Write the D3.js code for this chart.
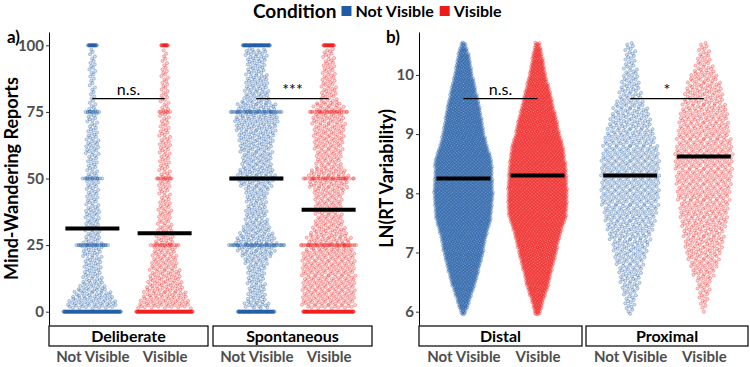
<!DOCTYPE html>
<html>
<head>
<meta charset="utf-8">
<script src="https://cdn.jsdelivr.net/npm/d3@7"></script>
<style>
  body { margin: 0; background: #fff; }
  text { font-family: Lato, "Open Sans", sans-serif; }
</style>
</head>
<body>
<svg id="chart" width="750" height="367"></svg>
<script>
// ---- data ----
const conditions = ["Not Visible", "Visible"];
const mwFacets = ["Deliberate", "Spontaneous"];
const rtFacets = ["Distal", "Proximal"];
const mwTicks = [0, 25, 50, 75, 100];
const rtTicks = [6, 7, 8, 9, 10];

// mind-wandering: counts per 2.5-wide bin (centres 2.5 .. 97.5)
const mwBins = d3.range(2.5, 100, 2.5);
const mwDeliberateNV = [29,25,20,14,11,10,10,10,11,12, 9,8,8,8,9,7,7,7,7,8, 6,6,6,8,8,7,6,5,6,6, 4,3,3,3,3,4,4,3,3];
const mwDeliberateV  = [29,26,23,20,18,17,15,14,13,12, 10,9,8,7,8,7,6,6,7,7, 6,6,6,6,7,6,6,5,5,6, 4,5,4,4,4,4,3,3,2];
const mwSpontaneousNV = [15,11,10,10,10,10,12,15,21,23, 23,18,15,12,13,11,12,13,18,22, 21,17,17,18,19,20,22,24,26,21, 23,15,14,13,13,11,10,12,13];
const mwSpontaneousV  = [29,29,29,29,29,29,29,29,29,22, 25,20,17,15,14,15,15,17,22,22, 21,14,14,15,16,17,17,18,18,16, 17,9,9,8,8,7,7,6,6];
// reports exactly on the round values
const mwSpikeValues = [0, 25, 50, 75, 100];
const mwSpikeDeliberateNV = [128, 25, 12, 9, 20];
const mwSpikeDeliberateV  = [126, 14, 9, 5, 15];
const mwSpikeSpontaneousNV = [84, 38, 31, 36, 62];
const mwSpikeSpontaneousV  = [112, 37, 26, 20, 24];

// LN(RT variability): counts per 0.1-wide bin (centres 6.0 .. 10.5)
const rtBins = d3.range(60, 106).map(d => d / 10);
const rtDistalNV = [10,20,26,34,42,50,56,62,68,74, 80,84,88,94,100,108,112,114,116,118, 120,118,118,116,116,116,112,104,96,90, 84,80,76,72,68,64,58,52,48,42, 36,32,28,24,18,10];
const rtDistalV  = [12,18,24,32,40,46,50,56,62,68, 74,78,84,90,96,104,112,114,116,116, 116,116,114,114,112,110,106,104,100,94, 86,82,78,72,66,60,56,50,44,38, 32,28,24,20,16,10];
const rtProximalNV = [3,5,5,6,8,9,10,11,12,14, 15,16,18,19,21,22,23,24,25,26, 26,26,26,26,26,26,26,25,24,23, 22,20,19,18,16,14,11,10,9,8, 7,6,5,5,5,4];
const rtProximalV  = [1,3,4,5,6,6,9,11,13,14, 16,17,18,18,19,21,21,22,22,23, 24,24,25,25,25,26,26,26,25,24, 23,23,22,22,21,19,18,17,16,14, 12,9,7,6,5,4];

// group means and significance
const mwMeanNV = [31.2, 50.0];
const mwMeanV  = [29.4, 38.3];
const rtMeanNV = [8.25, 8.30];
const rtMeanV  = [8.30, 8.62];
const mwSig = ["n.s.", "***"];
const rtSig = ["n.s.", "*"];
const mwSigAt = 80;
const rtSigAt = 9.6;

// ---- drawing ----
const svg = d3.select("#chart");
const color = d3.scaleOrdinal().domain(conditions).range(["#1f5ba3", "#ee1a1a"]);
const panelTop = 32, panelBottom = 325, stripH = 20;
const fontFamily = "Lato, 'Open Sans', sans-serif";

// van der Corput sequence, base 2 (quasirandom offsets)
function vdc(k) {
  let v = 0, denom = 1;
  while (k > 0) { denom *= 2; v += (k % 2) / denom; k = Math.floor(k / 2); }
  return v;
}

function makeSwarm(bins, counts, spikeVals, spikeCounts) {
  const step = bins[1] - bins[0];
  const densAt = v => {
    let t = (v - bins[0]) / step;
    t = Math.max(0, Math.min(bins.length - 1, t));
    const i = Math.min(Math.floor(t), bins.length - 2);
    const f = t - i;
    return counts[i] * (1 - f) + counts[i + 1] * f;
  };
  const pts = [];
  bins.forEach((b, j) => {
    const n = counts[j];
    for (let i = 0; i < n; i++) {
      const v = b - step / 2 + (i + 0.5) * step / n;
      pts.push({ v, d: densAt(v) });
    }
  });
  spikeVals.forEach((s, j) => {
    const k = bins.findIndex(b => Math.abs(b - s) < 1e-9);
    const d = spikeCounts[j] / 4 + (k >= 0 ? counts[k] : 0);
    for (let i = 0; i < spikeCounts[j]; i++) pts.push({ v: s, d });
  });
  const maxD = d3.max(pts, p => p.d);
  pts.sort((a, b) => a.v - b.v);
  pts.forEach((p, i) => { p.q = (vdc(i + 1) * 2 - 1) * p.d / maxD; });
  return pts;
}

function drawFacet(x0, x1, y, name, swarms, means, sig, sigAt, ticks) {
  const g = svg.append("g");
  const x = d3.scalePoint().domain(conditions).range([x0, x1]).padding(0.6);
  const half = 0.4 * x.step();

  conditions.forEach((c, i) => {
    g.append("g")
      .selectAll("circle")
      .data(swarms[i])
      .join("circle")
      .attr("cx", p => x(c) + p.q * half)
      .attr("cy", p => y(p.v))
      .attr("r", 1.6)
      .attr("fill", color(c))
      .attr("fill-opacity", 0.2)
      .attr("stroke", color(c))
      .attr("stroke-opacity", 0.5)
      .attr("stroke-width", 0.6);
  });

  // means
  conditions.forEach((c, i) => {
    g.append("line")
      .attr("x1", x(c) - 27).attr("x2", x(c) + 27)
      .attr("y1", y(means[i])).attr("y2", y(means[i]))
      .attr("stroke", "#000").attr("stroke-width", 4);
  });

  // significance bar
  g.append("line")
    .attr("x1", x(conditions[0])).attr("x2", x(conditions[1]))
    .attr("y1", y(sigAt)).attr("y2", y(sigAt))
    .attr("stroke", "#000").attr("stroke-width", 1.2);
  g.append("text")
    .attr("x", (x(conditions[0]) + x(conditions[1])) / 2)
    .attr("y", y(sigAt) - 4)
    .attr("text-anchor", "middle")
    .style("font-size", "16px")
    .text(sig);

  if (ticks) {
    const ax = g.append("g")
      .attr("transform", `translate(${x0},0)`)
      .call(d3.axisLeft(y).tickValues(ticks).tickFormat(d3.format("d"))
        .tickSize(3).tickSizeOuter(0).tickPadding(2));
    ax.select(".domain").attr("stroke", "#000");
    ax.selectAll(".tick line").attr("stroke", "#333");
    ax.selectAll(".tick text")
      .attr("fill", "#4d4d4d")
      .style("font-size", "15px")
      .style("font-weight", "bold")
      .style("font-family", fontFamily);
  }

  // strip below the panel
  g.append("rect")
    .attr("x", x0).attr("y", panelBottom + 1)
    .attr("width", x1 - x0).attr("height", stripH)
    .attr("fill", "#fff").attr("stroke", "#000").attr("stroke-width", 1.2);
  g.append("text")
    .attr("x", (x0 + x1) / 2).attr("y", panelBottom + 17)
    .attr("text-anchor", "middle")
    .style("font-size", "16px").style("font-weight", "bold")
    .text(name);

  // category labels
  const xa = g.append("g")
    .attr("transform", `translate(0,${panelBottom + 1 + stripH})`)
    .call(d3.axisBottom(x).tickSize(0).tickPadding(5));
  xa.select(".domain").remove();
  xa.selectAll(".tick text")
    .attr("fill", "#4d4d4d")
    .style("font-size", "15px")
    .style("font-weight", "bold")
    .style("font-family", fontFamily);
}

// panel a
const yMW = d3.scaleLinear().domain([-5, 105]).range([panelBottom, panelTop]);
drawFacet(49, 208, yMW, mwFacets[0],
  [makeSwarm(mwBins, mwDeliberateNV, mwSpikeValues, mwSpikeDeliberateNV),
   makeSwarm(mwBins, mwDeliberateV, mwSpikeValues, mwSpikeDeliberateV)],
  [mwMeanNV[0], mwMeanV[0]], mwSig[0], mwSigAt, mwTicks);
drawFacet(213, 372, yMW, mwFacets[1],
  [makeSwarm(mwBins, mwSpontaneousNV, mwSpikeValues, mwSpikeSpontaneousNV),
   makeSwarm(mwBins, mwSpontaneousV, mwSpikeValues, mwSpikeSpontaneousV)],
  [mwMeanNV[1], mwMeanV[1]], mwSig[1], mwSigAt, null);

// panel b
const yRT = d3.scaleLinear().domain([5.775, 10.725]).range([panelBottom, panelTop]);
drawFacet(419, 582, yRT, rtFacets[0],
  [makeSwarm(rtBins, rtDistalNV, [], []), makeSwarm(rtBins, rtDistalV, [], [])],
  [rtMeanNV[0], rtMeanV[0]], rtSig[0], rtSigAt, rtTicks);
drawFacet(586, 748, yRT, rtFacets[1],
  [makeSwarm(rtBins, rtProximalNV, [], []), makeSwarm(rtBins, rtProximalV, [], [])],
  [rtMeanNV[1], rtMeanV[1]], rtSig[1], rtSigAt, null);

// axis titles and panel tags
svg.append("text")
  .attr("transform", `translate(18,${(panelTop + panelBottom) / 2}) rotate(-90)`)
  .attr("text-anchor", "middle")
  .style("font-size", "18px").style("font-weight", "bold")
  .text("Mind-Wandering Reports");
svg.append("text")
  .attr("transform", `translate(393,${(panelTop + panelBottom) / 2}) rotate(-90)`)
  .attr("text-anchor", "middle")
  .style("font-size", "18px").style("font-weight", "bold")
  .text("LN(RT Variability)");
svg.append("text").attr("x", 7).attr("y", 43)
  .style("font-size", "17px").style("font-weight", "bold").text("a)");
svg.append("text").attr("x", 386).attr("y", 43)
  .style("font-size", "17px").style("font-weight", "bold").text("b)");

// legend
const legend = svg.append("g");
const title = legend.append("text").attr("x", 253).attr("y", 18)
  .style("font-size", "19px").style("font-weight", "bold").text("Condition");
let lx = 253 + title.node().getComputedTextLength() + 5;
conditions.forEach(c => {
  legend.append("rect").attr("x", lx).attr("y", 6).attr("width", 10).attr("height", 10)
    .attr("fill", color(c));
  const t = legend.append("text").attr("x", lx + 14).attr("y", 17)
    .style("font-size", "16px").style("font-weight", "bold").text(c);
  lx += 14 + t.node().getComputedTextLength() + 6;
});
</script>
</body>
</html>
